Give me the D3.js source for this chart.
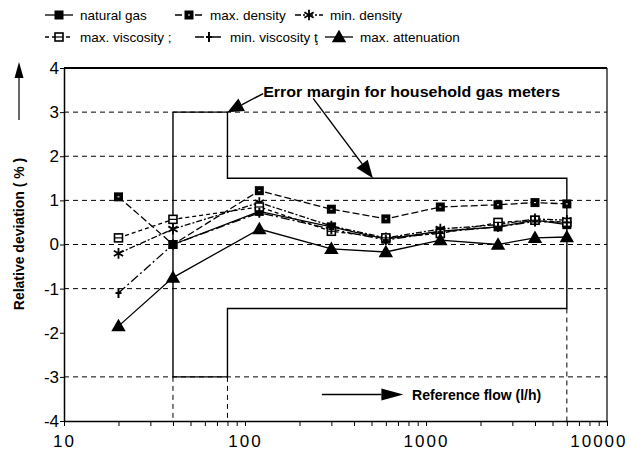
<!DOCTYPE html>
<html lang="en">
<head>
<meta charset="UTF-8">
<title>Relative deviation vs reference flow</title>
<script src="https://d3js.org/d3.v7.min.js"></script>
<style>
  body { margin: 0; background: #fff; }
  svg { display: block; font-family: "Liberation Sans", Arial, sans-serif; }
</style>
</head>
<body>
<div id="chart"></div>
<script>
// data
var flows = [20, 40, 120, 300, 600, 1200, 2500, 4000, 6000];
var naturalGas   = [null, 0.0, 0.75, 0.4, 0.12, 0.3, 0.4, 0.55, 0.45];
var maxDensity   = [1.08, 0.0, 1.22, 0.8, 0.58, 0.85, 0.9, 0.95, 0.92];
var minDensity   = [-0.2, 0.35, 0.95, 0.42, 0.15, 0.35, 0.45, 0.58, 0.55];
var maxViscosity = [0.15, 0.57, 0.85, 0.3, 0.15, 0.25, 0.5, 0.55, 0.5];
var minViscosity = [-1.1, 0.0, 0.72, 0.35, 0.1, 0.28, 0.4, 0.52, 0.5];
var maxAttenuation = [-1.85, -0.75, 0.35, -0.1, -0.17, 0.1, 0.0, 0.15, 0.17];

// error margin for household gas meters (outline)
var marginX = [40, 80, 80, 6000, 6000, 80, 80, 40, 40];
var marginY = [3, 3, 1.5, 1.5, -1.45, -1.45, -3, -3, 3];

var xTicks = [10,20,30,40,50,60,70,80,90,100,200,300,400,500,600,700,800,900,
              1000,2000,3000,4000,5000,6000,7000,8000,9000,10000];
var xLabels = [10, 100, 1000, 10000];
var yTicks = [-4, -3, -2, -1, 0, 1, 2, 3, 4];
var gridY = [3, 2, 1, 0, -1, -3];

var W = 631, H = 454;
var svg = d3.select("#chart").append("svg").attr("width", W).attr("height", H);

var x = d3.scaleLog().domain([10, 10000]).range([64, 607]);
var y = d3.scaleLinear().domain([-4, 4]).range([421, 68]);

// grid lines
svg.append("g").selectAll("line").data(gridY).enter().append("line")
  .attr("x1", x(10)).attr("x2", x(10000))
  .attr("y1", function(d){ return y(d); }).attr("y2", function(d){ return y(d); })
  .attr("stroke", "#000").attr("stroke-width", 1).attr("stroke-dasharray", "5,4");

// dashed drop lines under the margin box
var drops = [[40, -3], [80, -3], [6000, -1.45]];
svg.append("g").selectAll("line").data(drops).enter().append("line")
  .attr("x1", function(d){ return x(d[0]); }).attr("x2", function(d){ return x(d[0]); })
  .attr("y1", function(d){ return y(d[1]); }).attr("y2", y(-4))
  .attr("stroke", "#000").attr("stroke-width", 1).attr("stroke-dasharray", "5,4");

// margin outline
var marginPts = marginX.map(function(v, i){ return [v, marginY[i]]; });
svg.append("path")
  .attr("d", d3.line().x(function(d){ return x(d[0]); }).y(function(d){ return y(d[1]); })(marginPts))
  .attr("fill", "none").attr("stroke", "#000").attr("stroke-width", 1.4);

// frame top / right
svg.append("line").attr("x1", x(10)).attr("x2", x(10000)).attr("y1", y(4)).attr("y2", y(4))
  .attr("stroke", "#000").attr("stroke-width", 2);
svg.append("line").attr("x1", x(10000)).attr("x2", x(10000)).attr("y1", y(4)).attr("y2", y(-4))
  .attr("stroke", "#000").attr("stroke-width", 1.2);

// axes
var xAxis = svg.append("g").attr("transform", "translate(0," + y(-4) + ")")
  .call(d3.axisBottom(x).tickValues(xTicks).tickSize(5).tickSizeOuter(0)
    .tickFormat(function(d){ return xLabels.indexOf(d) >= 0 ? String(d) : ""; }));
xAxis.select(".domain").attr("stroke-width", 1.5);
xAxis.selectAll("text").attr("font-size", 17).attr("font-family", "Liberation Sans, Arial")
  .attr("fill", "#000").attr("letter-spacing", "2px").attr("dy", "1.05em");
xAxis.selectAll(".tick").filter(function(d){ return d === 10000; }).select("text")
  .attr("text-anchor", "end").attr("x", 20);

var yAxis = svg.append("g").attr("transform", "translate(" + x(10) + ",0)")
  .call(d3.axisLeft(y).tickValues(yTicks).tickSize(4).tickSizeOuter(0)
    .tickFormat(function(d){ return String(d); }));
yAxis.select(".domain").attr("stroke-width", 1.5);
yAxis.selectAll("text").attr("font-size", 17).attr("font-family", "Liberation Sans, Arial")
  .attr("fill", "#000").attr("x", -5);

// y axis title with arrow
svg.append("text").attr("transform", "translate(24,234) rotate(-90)")
  .attr("text-anchor", "middle").attr("font-weight", "bold").attr("font-size", 14)
  .text("Relative deviation ( % )");
svg.append("line").attr("x1", 19).attr("x2", 19).attr("y1", 120).attr("y2", 72)
  .attr("stroke", "#000").attr("stroke-width", 1.2);
svg.append("path").attr("d", "M19,62 L14.5,78 L23.5,78 Z").attr("fill", "#000");

// series
var series = [
  { name: "natural gas",       vals: naturalGas,     marker: "square",   dash: null },
  { name: "max. density",      vals: maxDensity,     marker: "dsquare",  dash: "7,3" },
  { name: "min. density",      vals: minDensity,     marker: "asterisk", dash: "6,2,2,2" },
  { name: "max. viscosity ;",  vals: maxViscosity,   marker: "osquare",  dash: "4,3" },
  { name: "min. viscosity ţ",  vals: minViscosity,   marker: "plus",     dash: "9,3,2,3" },
  { name: "max. attenuation",  vals: maxAttenuation, marker: "triangle", dash: null }
];

function drawMarker(g, type) {
  if (type === "square") {
    g.append("rect").attr("x", -4.5).attr("y", -4.5).attr("width", 9).attr("height", 9).attr("fill", "#000");
  } else if (type === "dsquare") {
    g.append("rect").attr("x", -4.5).attr("y", -4.5).attr("width", 9).attr("height", 9).attr("fill", "#000");
    g.append("rect").attr("x", -1).attr("y", -0.5).attr("width", 2).attr("height", 1).attr("fill", "#fff");
  } else if (type === "osquare") {
    g.append("rect").attr("x", -4).attr("y", -4).attr("width", 8).attr("height", 8)
      .attr("fill", "#fff").attr("stroke", "#000").attr("stroke-width", 1.6);
    g.append("line").attr("x1", -4).attr("x2", 4).attr("y1", 0).attr("y2", 0).attr("stroke", "#000").attr("stroke-width", 1.2);
  } else if (type === "asterisk") {
    g.append("path").attr("d", d3.symbol(d3.symbolAsterisk, 80)())
      .attr("fill", "none").attr("stroke", "#000").attr("stroke-width", 1.8);
  } else if (type === "plus") {
    g.append("line").attr("x1", 0).attr("x2", 0).attr("y1", -5).attr("y2", 5).attr("stroke", "#000").attr("stroke-width", 2);
    g.append("line").attr("x1", -3).attr("x2", 3).attr("y1", 0).attr("y2", 0).attr("stroke", "#000").attr("stroke-width", 2);
  } else if (type === "triangle") {
    g.append("path").attr("d", d3.symbol(d3.symbolTriangle, 90)()).attr("transform", "translate(0,1)").attr("fill", "#000");
  }
}

var line = d3.line()
  .defined(function(d){ return d[1] !== null; })
  .x(function(d){ return x(d[0]); })
  .y(function(d){ return y(d[1]); });

series.forEach(function(s) {
  var pts = flows.map(function(f, i){ return [f, s.vals[i]]; });
  svg.append("path").attr("d", line(pts))
    .attr("fill", "none").attr("stroke", "#000").attr("stroke-width", 1.3)
    .attr("stroke-dasharray", s.dash);
});
series.forEach(function(s) {
  flows.forEach(function(f, i) {
    if (s.vals[i] === null) return;
    var g = svg.append("g").attr("transform", "translate(" + x(f) + "," + y(s.vals[i]) + ")");
    drawMarker(g, s.marker);
  });
});

// legend
var legendPos = [[45, 15], [175, 15], [295, 15], [45, 37], [195, 37], [325, 37]];
series.forEach(function(s, i) {
  var p = legendPos[i];
  var g = svg.append("g").attr("transform", "translate(" + p[0] + "," + p[1] + ")");
  g.append("line").attr("x1", 0).attr("x2", 28).attr("y1", 0).attr("y2", 0)
    .attr("stroke", "#000").attr("stroke-width", 1.3).attr("stroke-dasharray", s.dash);
  drawMarker(g.append("g").attr("transform", "translate(14,0)"), s.marker);
  g.append("text").attr("x", 35).attr("y", 5).attr("font-size", 13.5).text(s.name);
});

// annotations
function arrow(x1, y1, x2, y2, len, half) {
  var dx = x2 - x1, dy = y2 - y1, L = Math.sqrt(dx*dx + dy*dy);
  var ux = dx / L, uy = dy / L;
  var bx = x2 - ux * len, by = y2 - uy * len;
  svg.append("line").attr("x1", x1).attr("y1", y1).attr("x2", bx).attr("y2", by)
    .attr("stroke", "#000").attr("stroke-width", 1.4);
  svg.append("path").attr("d", "M" + x2 + "," + y2 +
      "L" + (bx - uy * half) + "," + (by + ux * half) +
      "L" + (bx + uy * half) + "," + (by - ux * half) + "Z")
    .attr("fill", "#000");
}

svg.append("text").attr("x", x(126)).attr("y", y(3.35))
  .attr("font-weight", "bold").attr("font-size", 15)
  .attr("textLength", 297).attr("lengthAdjust", "spacingAndGlyphs")
  .text("Error margin for household gas meters");
arrow(x(126), y(3.42), x(80), y(3.0), 16, 7);
arrow(x(238), y(3.31), x(509), y(1.5), 18, 7);

arrow(x(266), y(-3.4), x(750), y(-3.4), 22, 6);
svg.append("text").attr("x", x(838)).attr("y", y(-3.4) + 5)
  .attr("font-weight", "bold").attr("font-size", 14)
  .text("Reference flow (l/h)");
</script>
</body>
</html>
